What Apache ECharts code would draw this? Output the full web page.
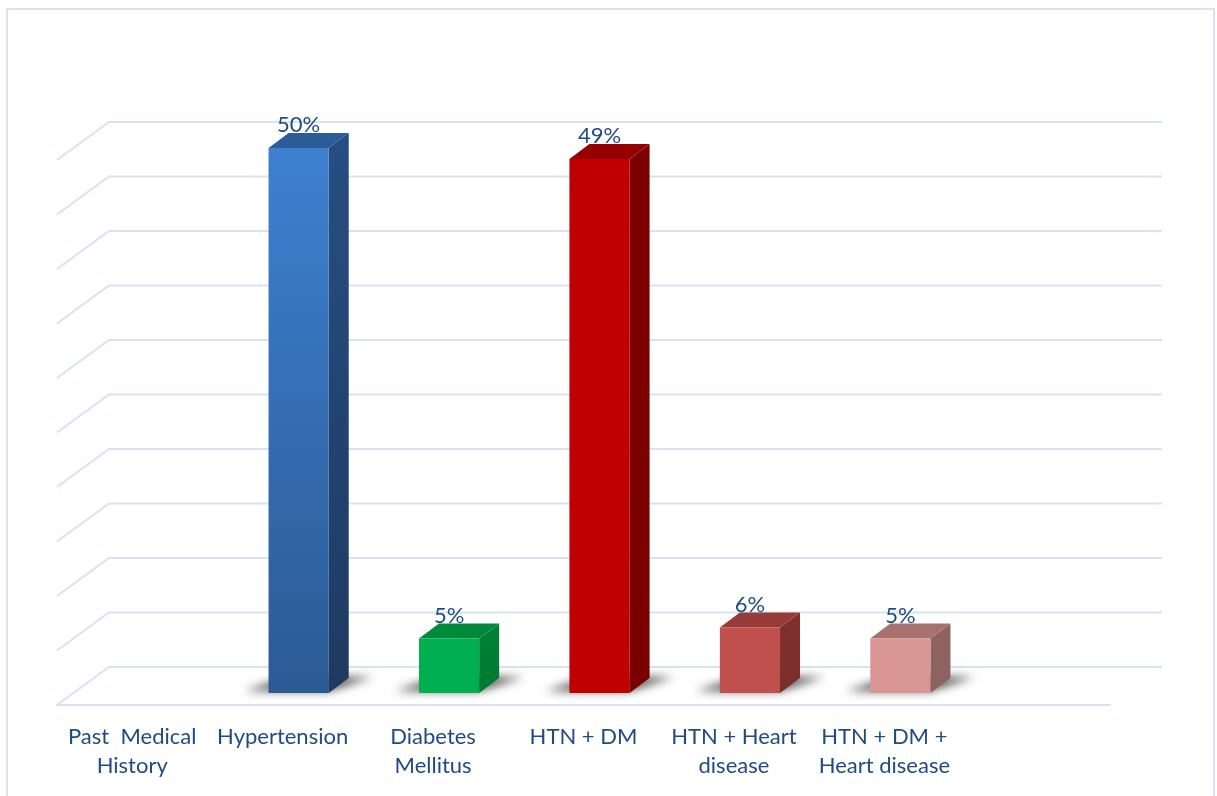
<!DOCTYPE html>
<html>
<head>
<meta charset="utf-8">
<script src="https://cdn.jsdelivr.net/npm/echarts@6/dist/echarts.min.js"></script>
<style>
  html, body { margin: 0; padding: 0; background: #ffffff; }
  #chart { width: 1217px; height: 796px; }
</style>
</head>
<body>
<div id="chart"></div>
<script>
// Past medical history – share of patients per condition
const categories = [
  'Past  Medical\nHistory',
  'Hypertension',
  'Diabetes\nMellitus',
  'HTN + DM',
  'HTN + Heart\ndisease',
  'HTN + DM +\nHeart disease',
  ''
];
const values = [null, 50, 5, 49, 6, 5, null];
const gridTicks = [0, 5, 10, 15, 20, 25, 30, 35, 40, 45, 50];

// Face shading for each category's box (front gradient, side gradient, top)
const faceColors = [
  null,
  { front: ['#3d80d0', '#2c5a94'], side: ['#274e82', '#1e3a60'], top: '#2c5c98' },
  { front: ['#00b050', '#00b050'], side: ['#007f36', '#007a33'], top: '#008a3c' },
  { front: ['#c00000', '#c00000'], side: ['#7d0000', '#7a0000'], top: '#960000' },
  { front: ['#c0504d', '#c0504d'], side: ['#7e302e', '#7b2f2d'], top: '#963b38' },
  { front: ['#d99694', '#d99694'], side: ['#8e6362', '#8c6261'], top: '#a6716f' },
  null
];

// Oblique projection offsets (pixels)
const FLOOR_DX = 52, FLOOR_DY = 38;   // front edge -> back wall
const BAR_SHIFT_X = 16, BAR_SHIFT_Y = 12; // front edge -> bar front plane
const BAR_DX = 20, BAR_DY = 15;       // bar depth
const GRID_COLOR = '#d6e3f4';
const TEXT_COLOR = '#1f4b85';
const FONT = 'Lato, "Open Sans", sans-serif';

function vGrad(c) {
  return new echarts.graphic.LinearGradient(0, 0, 0, 1, [
    { offset: 0, color: c[0] }, { offset: 1, color: c[1] }
  ]);
}

function renderWall(params, api) {
  const cs = params.coordSys;
  const y = api.coord([0, api.value(1)])[1];
  const xl = cs.x, xr = cs.x + cs.width;
  return {
    type: 'polyline',
    shape: { points: [[xl, y], [xl + FLOOR_DX, y - FLOOR_DY], [xr + FLOOR_DX, y - FLOOR_DY]] },
    style: { stroke: GRID_COLOR, lineWidth: 2, fill: null }
  };
}

function renderBar(params, api) {
  const i = api.value(0), v = api.value(1);
  const pal = faceColors[i];
  const base = api.coord([i, 0]);
  const topPt = api.coord([i, v]);
  const w = api.size([1, 0])[0] * 0.4;
  const cx = base[0] + BAR_SHIFT_X;
  const x0 = cx - w / 2, x1 = cx + w / 2;
  const yb = base[1] - BAR_SHIFT_Y, yt = topPt[1] - BAR_SHIFT_Y;
  const OFF = 3000;
  return {
    type: 'group',
    children: [
      { // soft floor shadow (shape drawn off-canvas, only its shadow lands here)
        type: 'polygon',
        shape: { points: [
          [x0 - 24 - OFF, yb - 2], [x1 - OFF, yb - 2],
          [x1 + BAR_DX + 24 - OFF, yb - BAR_DY - 1], [x0 + BAR_DX - OFF, yb - BAR_DY - 1]
        ] },
        style: { fill: 'rgba(0,0,0,0.8)', shadowBlur: 10, shadowColor: 'rgba(0,0,0,0.85)', shadowOffsetX: OFF }
      },
      {
        type: 'polygon',
        shape: { points: [[x1, yb], [x1 + BAR_DX, yb - BAR_DY], [x1 + BAR_DX, yt - BAR_DY], [x1, yt]] },
        style: { fill: vGrad(pal.side) }
      },
      {
        type: 'polygon',
        shape: { points: [[x0, yt], [x1, yt], [x1 + BAR_DX, yt - BAR_DY], [x0 + BAR_DX, yt - BAR_DY]] },
        style: { fill: pal.top }
      },
      {
        type: 'rect',
        shape: { x: x0, y: yt, width: w, height: yb - yt },
        style: { fill: vGrad(pal.front) }
      },
      {
        type: 'text',
        x: cx, y: yt - BAR_DY + 3,
        style: {
          text: v + '%', align: 'center', verticalAlign: 'bottom',
          fill: TEXT_COLOR, font: '22px ' + FONT
        }
      }
    ]
  };
}

const chart = echarts.init(document.getElementById('chart'), null, { renderer: 'canvas' });
chart.setOption({
  backgroundColor: '#ffffff',
  animation: false,
  graphic: [{
    type: 'rect',
    shape: { x: 7, y: 9, width: 1207, height: 820 },
    style: { fill: null, stroke: GRID_COLOR, lineWidth: 2 },
    silent: true
  }],
  grid: { left: 57, right: 107, top: 160, bottom: 91, containLabel: false },
  xAxis: {
    type: 'category',
    data: categories,
    axisLine: { show: true, lineStyle: { color: GRID_COLOR, width: 2 } },
    axisTick: { show: false },
    splitLine: { show: false },
    axisLabel: {
      interval: 0, margin: 17, color: TEXT_COLOR,
      fontFamily: 'Lato, "Open Sans", sans-serif', fontSize: 22, lineHeight: 29
    }
  },
  yAxis: {
    type: 'value', min: 0, max: 50, interval: 5,
    axisLine: { show: false }, axisTick: { show: false },
    axisLabel: { show: false }, splitLine: { show: false }
  },
  series: [
    {
      type: 'custom',
      renderItem: renderWall,
      data: gridTicks.map(t => [0, t]),
      encode: { x: 0, y: 1 },
      clip: false, silent: true, z: 1
    },
    {
      type: 'custom',
      renderItem: renderBar,
      data: values.map((v, i) => [i, v]).filter(d => d[1] != null),
      encode: { x: 0, y: 1 },
      clip: false, silent: true, z: 2
    }
  ]
});
</script>
</body>
</html>
